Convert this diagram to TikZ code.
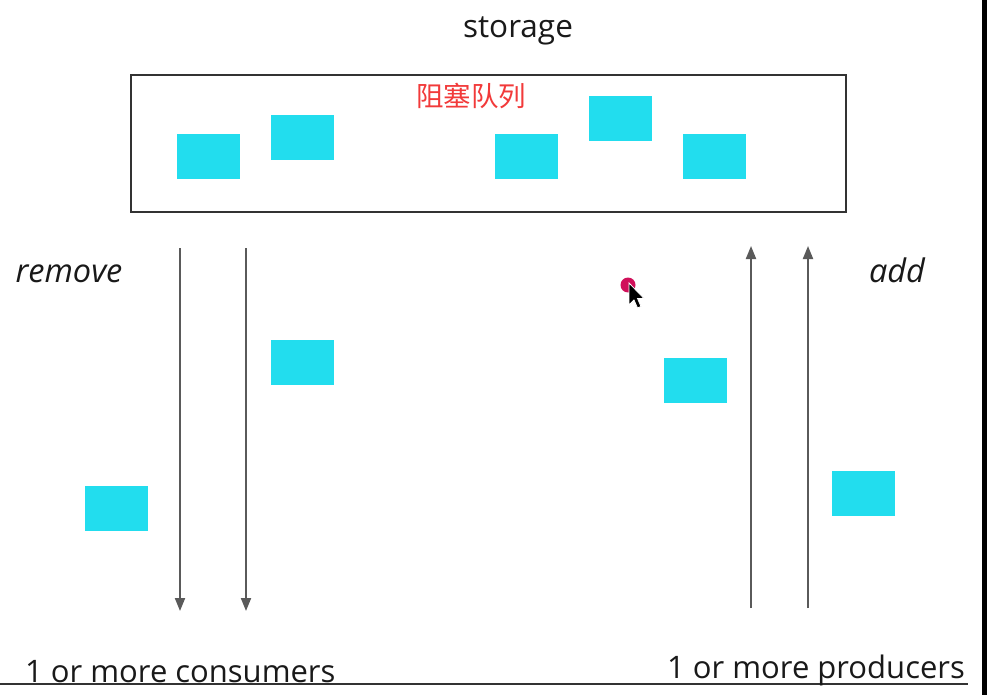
\documentclass[tikz,border=0pt]{standalone}
\usepackage{fontspec}
\setmainfont{Open Sans}
\newfontfamily\cjk{Noto Sans CJK SC}
\usetikzlibrary{arrows.meta}
\definecolor{blkcyan}{HTML}{22DDEE}
\definecolor{arrgray}{HTML}{5A5A5A}
\definecolor{boxgray}{HTML}{333333}
\definecolor{cnred}{HTML}{F23A3A}
\definecolor{dotred}{HTML}{D0105A}
\begin{document}
\begin{tikzpicture}[x=1pt,y=-1pt,
  blk/.style={fill=blkcyan,draw=none,minimum width=63pt,minimum height=45pt,inner sep=0pt},
  flow/.style={draw=arrgray,line width=2pt,-{Triangle[length=13pt,width=10pt]}},
  lbl/.style={inner sep=0pt,text=black!90},
  biglbl/.style={lbl,font=\fontsize{31.5}{33}\selectfont},
  botlbl/.style={lbl,font=\fontsize{31}{33}\selectfont},
  itlbl/.style={lbl,font=\fontsize{32.5}{34}\selectfont\itshape}]
\fill[white] (0,0) rectangle (987,695);
\useasboundingbox (0,0) rectangle (987,695);
% right black band and bottom rule
\fill[black] (982,0) rectangle (987,695);
\draw[boxgray,line width=1.5pt] (0,684) -- (968,684);
% storage box
\node[draw=boxgray,line width=2pt,minimum width=715pt,minimum height=137pt,inner sep=0pt] (store) at (488.5,143.5) {};
\node[biglbl,anchor=base] (title) at (518,38) {storage};
\node[lbl,text=cnred,font=\cjk\fontsize{27.5}{29}\selectfont] (cn) at (471,96) {阻塞队列};
% blocks in the queue
\node[blk] (q1) at (208.5,156.5) {};
\node[blk] (q2) at (302,137.5) {};
\node[blk] (q3) at (526.5,156.5) {};
\node[blk] (q4) at (620.5,118.5) {};
\node[blk] (q5) at (714.5,156.5) {};
% moving blocks
\node[blk] (m1) at (302.5,362.5) {};
\node[blk] (m2) at (116.5,508.5) {};
\node[blk] (m3) at (695.5,380.5) {};
\node[blk] (m4) at (863.5,493.5) {};
% arrows
\coordinate (d1s) at (180,248);
\coordinate (d1e) at (180,611);
\coordinate (d2s) at (246,248);
\coordinate (d2e) at (246,611);
\coordinate (u1s) at (751,608);
\coordinate (u1e) at (751,246);
\coordinate (u2s) at (808,608);
\coordinate (u2e) at (808,246);
\draw[flow] (d1s) -- (d1e);
\draw[flow] (d2s) -- (d2e);
\draw[flow] (u1s) -- (u1e);
\draw[flow] (u2s) -- (u2e);
% labels
\node[itlbl,anchor=base] (rm) at (69,282) {remove};
\node[itlbl,anchor=base] (ad) at (897,282) {add};
\node[botlbl,anchor=base west] (cons) at (25,682) {1 or more consumers};
\node[botlbl,anchor=base west] (prod) at (667,678) {1 or more producers};
% pointer
\fill[dotred] (628,285) circle (7.5);
\filldraw[fill=black,draw=white,line width=0.8pt] (629,283) -- (629,305) -- (634,300) -- (637.5,308) -- (641,306.5) -- (637.5,298.5) -- (644,298.5) -- cycle;
\end{tikzpicture}
\end{document}
